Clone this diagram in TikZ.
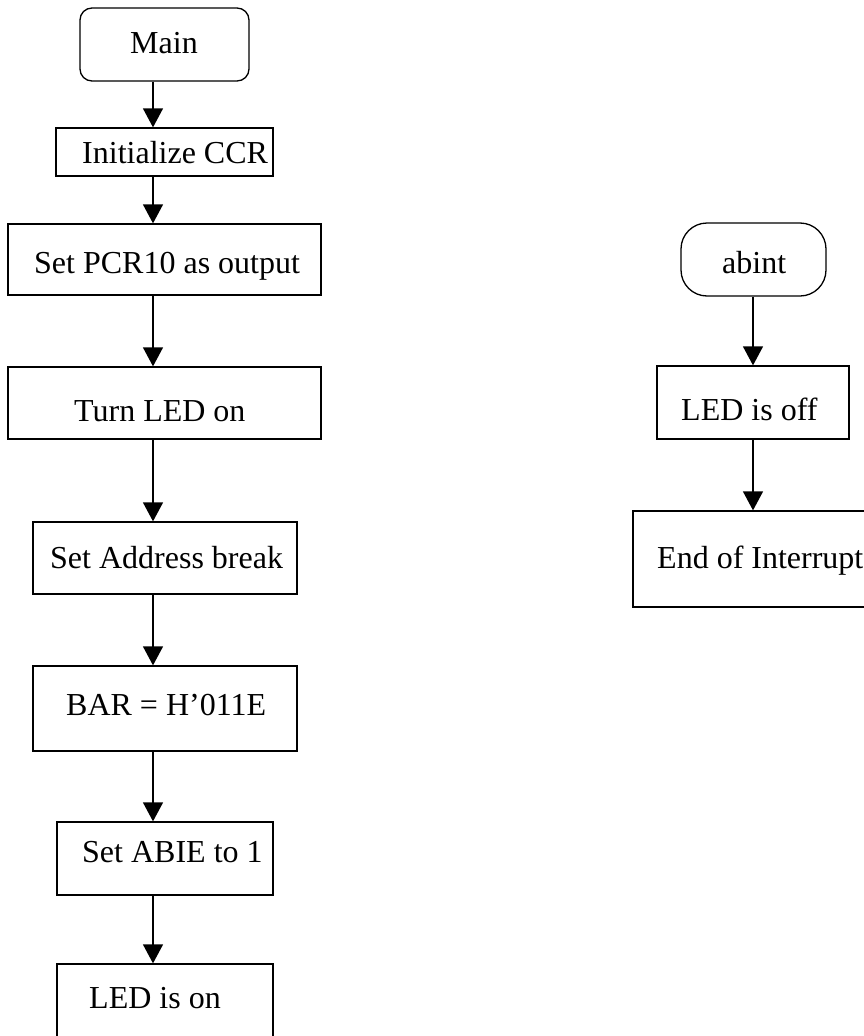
\documentclass[tikz,border=0pt]{standalone}
\usepackage{fontspec}
\setmainfont{Liberation Serif}
\usetikzlibrary{arrows.meta}
\begin{document}
\begin{tikzpicture}[x=1pt,y=-1pt,
  box/.style={draw,line width=1.3pt,inner sep=0pt,rectangle},
  txt/.style={anchor=base west,inner sep=0pt,font=\fontsize{32}{38}\selectfont},
  arr/.style={line width=1.3pt,-{Triangle[width=20pt,length=19pt]}}]
\clip (0,0) rectangle (864,1036);
\fill[white] (0,0) rectangle (864,1036);
% left column boxes
\node[box,rounded corners=12pt,minimum width=169pt,minimum height=73pt] (main) at (164.5,44.5) {};
\node[box,minimum width=217pt,minimum height=48pt] (init) at (164.5,152) {};
\node[box,minimum width=313pt,minimum height=71pt] (pcr) at (164.5,259.5) {};
\node[box,minimum width=313pt,minimum height=72pt] (led) at (164.5,403) {};
\node[box,minimum width=264pt,minimum height=72pt] (addr) at (165,558) {};
\node[box,minimum width=264pt,minimum height=85pt] (bar) at (165,708.5) {};
\node[box,minimum width=216pt,minimum height=73pt] (abie) at (165,858.5) {};
\node[box,minimum width=216pt,minimum height=110pt] (ledon) at (165,1019) {};
% right column boxes
\node[box,rounded corners=26pt,minimum width=145pt,minimum height=73pt] (abint) at (753.5,259.5) {};
\node[box,minimum width=192pt,minimum height=73pt] (ledoff) at (753,402.5) {};
\node[box,minimum width=300pt,minimum height=96pt] (eoi) at (783,559) {};
% texts
\node[txt] at (130,53) {Main};
\node[txt] at (82,163) {Initialize CCR};
\node[txt] at (34,273) {Set PCR10 as output};
\node[txt] at (74,421) {Turn LED on};
\node[txt] at (50,568) {Set Address break};
\node[txt] at (66,715) {BAR = H’011E};
\node[txt] at (82,862) {Set ABIE to 1};
\node[txt] at (89,1008) {LED is on};
\node[txt] at (722,273) {abint};
\node[txt] at (681,420) {LED is off};
\node[txt] at (657,568) {End of Interrupt};
% arrow axes
\coordinate (lx) at (153,0);
\coordinate (rx) at (753,0);
\draw[arr] (main.south -| lx) -- (init.north -| lx);
\draw[arr] (init.south -| lx) -- (pcr.north -| lx);
\draw[arr] (pcr.south -| lx) -- (led.north -| lx);
\draw[arr] (led.south -| lx) -- (addr.north -| lx);
\draw[arr] (addr.south -| lx) -- (bar.north -| lx);
\draw[arr] (bar.south -| lx) -- (abie.north -| lx);
\draw[arr] (abie.south -| lx) -- (ledon.north -| lx);
\draw[arr] (abint.south -| rx) -- (ledoff.north -| rx);
\draw[arr] (ledoff.south -| rx) -- (eoi.north -| rx);
\end{tikzpicture}
\end{document}
